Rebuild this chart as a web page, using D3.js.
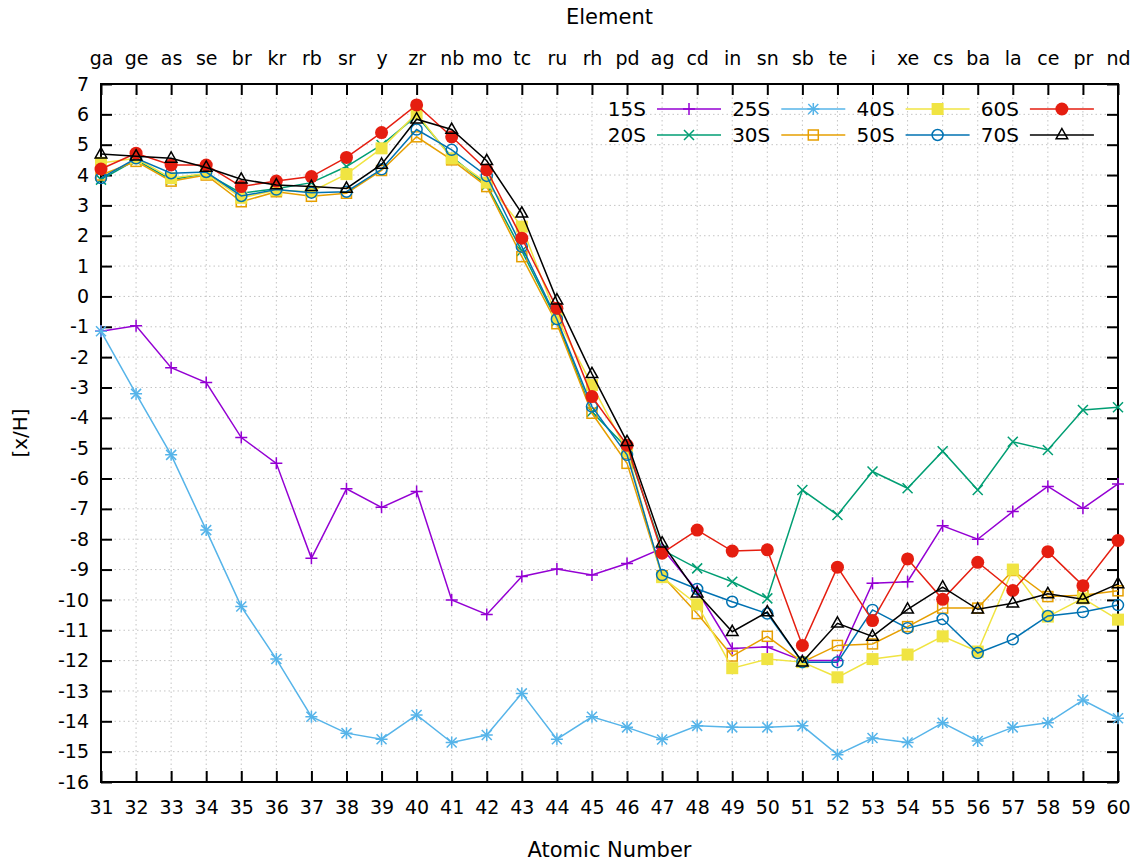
<!DOCTYPE html>
<html>
<head>
<meta charset="utf-8">
<script src="https://cdn.jsdelivr.net/npm/d3@7"></script>
<style>
  html, body { margin: 0; padding: 0; background: #fff; }
  svg { display: block; font-family: "DejaVu Sans", sans-serif; }
  .tick text { font-size: 19px; fill: #000; }
</style>
</head>
<body>
<svg id="chart" width="1144" height="866"></svg>
<script>
// Atomic numbers and their element symbols (top axis)
const atomicNumbers = d3.range(31, 61);
const elements = ["ga","ge","as","se","br","kr","rb","sr","y","zr","nb","mo","tc","ru","rh","pd",
                  "ag","cd","in","sn","sb","te","i","xe","cs","ba","la","ce","pr","nd"];

// [x/H] abundances for each model, indexed by atomic number 31..60
const s15 = [-1.15,-0.97,-2.35,-2.84,-4.65,-5.5,-8.63,-6.34,-6.95,-6.43,-10.0,-10.48,-9.23,-8.98,-9.18,
             -8.8,-8.3,-9.7,-11.6,-11.55,-12.0,-12.0,-9.45,-9.4,-7.56,-8.0,-7.09,-6.26,-6.98,-6.18];
const s20 = [3.85,4.5,3.85,4.05,3.4,3.55,3.75,4.28,4.99,5.95,4.6,3.67,1.5,-0.8,-3.8,
             -5.0,-8.35,-8.96,-9.4,-9.95,-6.38,-7.2,-5.77,-6.32,-5.1,-6.38,-4.79,-5.06,-3.74,-3.65];
const s25 = [-1.15,-3.21,-5.22,-7.7,-10.22,-11.95,-13.85,-14.39,-14.59,-13.79,-14.7,-14.45,-13.08,-14.59,-13.85,
             -14.2,-14.6,-14.15,-14.2,-14.2,-14.15,-15.1,-14.55,-14.7,-14.05,-14.65,-14.2,-14.05,-13.3,-13.9];
const s30 = [4.0,4.45,3.8,4.0,3.12,3.45,3.3,3.4,4.15,5.26,4.5,3.62,1.31,-0.9,-3.85,
             -5.5,-9.2,-10.45,-11.85,-11.2,-12.05,-11.5,-11.45,-10.88,-10.27,-10.27,-9.03,-9.89,-9.85,-9.7];
const s40 = [4.4,4.55,3.9,4.05,3.25,3.5,3.45,4.03,4.88,6.03,4.55,3.75,2.3,-0.7,-2.92,
             -5.1,-9.25,-10.15,-12.25,-11.95,-12.05,-12.55,-11.95,-11.8,-11.2,-11.7,-9.0,-10.55,-9.95,-10.65];
const s50 = [3.9,4.55,4.06,4.1,3.31,3.52,3.42,3.45,4.19,5.5,4.83,3.97,1.64,-0.75,-3.63,
             -5.22,-9.18,-9.64,-10.06,-10.45,-12.05,-12.05,-10.33,-10.93,-10.63,-11.75,-11.3,-10.53,-10.4,-10.17];
const s60 = [4.2,4.72,4.33,4.33,3.62,3.8,3.95,4.58,5.4,6.31,5.26,4.17,1.92,-0.39,-3.3,
             -4.9,-8.46,-7.7,-8.39,-8.35,-11.5,-8.92,-10.68,-8.65,-9.98,-8.76,-9.69,-8.41,-9.53,-8.04];
const s70 = [4.69,4.62,4.55,4.25,3.86,3.67,3.62,3.56,4.35,5.84,5.5,4.47,2.74,-0.12,-2.55,
             -4.79,-8.13,-9.78,-11.05,-10.4,-12.05,-10.77,-11.2,-10.31,-9.58,-10.31,-10.11,-9.8,-9.98,-9.47];

const seriesNames = ["15S","20S","25S","30S","40S","50S","60S","70S"];
const seriesValues = [s15, s20, s25, s30, s40, s50, s60, s70];
const seriesColors = ["#9400d3","#009e73","#56b4e9","#e69f00","#f0e442","#0072b2","#e51e10","#000000"];
const seriesMarkers = ["plus","cross","star","square","squareFilled","circle","circleFilled","triangle"];

const yTicks = d3.range(-16, 8);

const svg = d3.select("#chart");
const plotLeft = 101, plotRight = 1118, plotTop = 84, plotBottom = 782;

const x = d3.scaleLinear().domain([31, 60]).range([plotLeft, plotRight]);
const y = d3.scaleLinear().domain([-16, 7]).range([plotBottom, plotTop]);

// dotted grid
const grid = svg.append("g").attr("stroke", "#c4c4c4").attr("stroke-width", 1)
  .attr("stroke-dasharray", "1.5,3");
grid.selectAll(".gx").data(atomicNumbers.slice(1, -1)).join("line")
  .attr("x1", d => x(d)).attr("x2", d => x(d)).attr("y1", plotTop).attr("y2", plotBottom);
grid.selectAll(".gy").data(yTicks.slice(1, -1)).join("line")
  .attr("x1", plotLeft).attr("x2", plotRight).attr("y1", d => y(d)).attr("y2", d => y(d));

// axes with inward ticks on all four sides
const tickLen = 11;
function styleAxis(g) {
  g.select(".domain").remove();
  g.selectAll(".tick line").attr("stroke", "#000").attr("stroke-width", 2);
}
svg.append("g").attr("transform", `translate(0,${plotBottom})`)
  .call(d3.axisBottom(x).tickValues(atomicNumbers).tickFormat(d => String(d))
    .tickSizeInner(-tickLen).tickSizeOuter(0).tickPadding(19))
  .call(styleAxis);
svg.append("g").attr("transform", `translate(0,${plotTop})`)
  .call(d3.axisTop(x).tickValues(atomicNumbers).tickFormat((d, i) => elements[i])
    .tickSizeInner(-tickLen).tickSizeOuter(0).tickPadding(19))
  .call(styleAxis);
svg.append("g").attr("transform", `translate(${plotLeft},0)`)
  .call(d3.axisLeft(y).tickValues(yTicks).tickFormat(d => String(d))
    .tickSizeInner(-tickLen).tickSizeOuter(0).tickPadding(12))
  .call(styleAxis);
svg.append("g").attr("transform", `translate(${plotRight},0)`)
  .call(d3.axisRight(y).tickValues(yTicks).tickFormat("")
    .tickSizeInner(-tickLen).tickSizeOuter(0))
  .call(styleAxis);
svg.selectAll(".tick text").style("font-family", "DejaVu Sans, sans-serif");

// plot frame
svg.append("rect").attr("x", plotLeft).attr("y", plotTop)
  .attr("width", plotRight - plotLeft).attr("height", plotBottom - plotTop)
  .attr("fill", "none").attr("stroke", "#000").attr("stroke-width", 2);

// axis titles
svg.append("text").attr("x", (plotLeft + plotRight) / 2).attr("y", 24).attr("text-anchor", "middle")
  .attr("font-size", 21).text("Element");
svg.append("text").attr("x", (plotLeft + plotRight) / 2).attr("y", 857).attr("text-anchor", "middle")
  .attr("font-size", 21).text("Atomic Number");
svg.append("text").attr("transform", `translate(27,${(plotTop + plotBottom) / 2}) rotate(-90)`)
  .attr("text-anchor", "middle").attr("font-size", 20).text("[x/H]");

// point markers
function drawMarker(g, type, color) {
  const sw = 1.5;
  if (type === "plus" || type === "star") {
    g.append("path").attr("d", "M-6,0H6M0,-6V6").attr("stroke", color).attr("stroke-width", sw);
  }
  if (type === "cross" || type === "star") {
    g.append("path").attr("d", "M-5,-5L5,5M-5,5L5,-5").attr("stroke", color).attr("stroke-width", sw);
  }
  if (type === "square") {
    g.append("rect").attr("x", -5).attr("y", -5).attr("width", 10).attr("height", 10)
      .attr("fill", "none").attr("stroke", color).attr("stroke-width", sw);
  }
  if (type === "squareFilled") {
    g.append("rect").attr("x", -6).attr("y", -6).attr("width", 12).attr("height", 12).attr("fill", color);
  }
  if (type === "circle") {
    g.append("circle").attr("r", 5.5).attr("fill", "none").attr("stroke", color).attr("stroke-width", sw);
  }
  if (type === "circleFilled") {
    g.append("circle").attr("r", 6.5).attr("fill", color);
  }
  if (type === "triangle") {
    g.append("path").attr("d", "M0,-6.5L5.8,3.8H-5.8Z").attr("fill", "none")
      .attr("stroke", color).attr("stroke-width", sw);
  }
}

const line = d3.line().x((d, i) => x(atomicNumbers[i])).y(d => y(d));

seriesValues.forEach((vals, s) => {
  const g = svg.append("g");
  g.append("path").attr("d", line(vals)).attr("fill", "none")
    .attr("stroke", seriesColors[s]).attr("stroke-width", 1.5);
  vals.forEach((v, i) => {
    const m = g.append("g").attr("transform", `translate(${x(atomicNumbers[i])},${y(v)})`);
    drawMarker(m, seriesMarkers[s], seriesColors[s]);
  });
});

// legend: 4 columns x 2 rows, filled column by column
const legend = svg.append("g");
seriesNames.forEach((name, s) => {
  const col = Math.floor(s / 2), row = s % 2;
  const tx = 646 + col * 124.3, ty = 109 + row * 26;
  legend.append("text").attr("x", tx).attr("y", ty).attr("dy", "0.35em")
    .attr("text-anchor", "end").attr("font-size", 20).text(name);
  legend.append("line").attr("x1", tx + 11).attr("x2", tx + 75).attr("y1", ty).attr("y2", ty)
    .attr("stroke", seriesColors[s]).attr("stroke-width", 1.5);
  const m = legend.append("g").attr("transform", `translate(${tx + 43},${ty})`);
  drawMarker(m, seriesMarkers[s], seriesColors[s]);
});
</script>
</body>
</html>
